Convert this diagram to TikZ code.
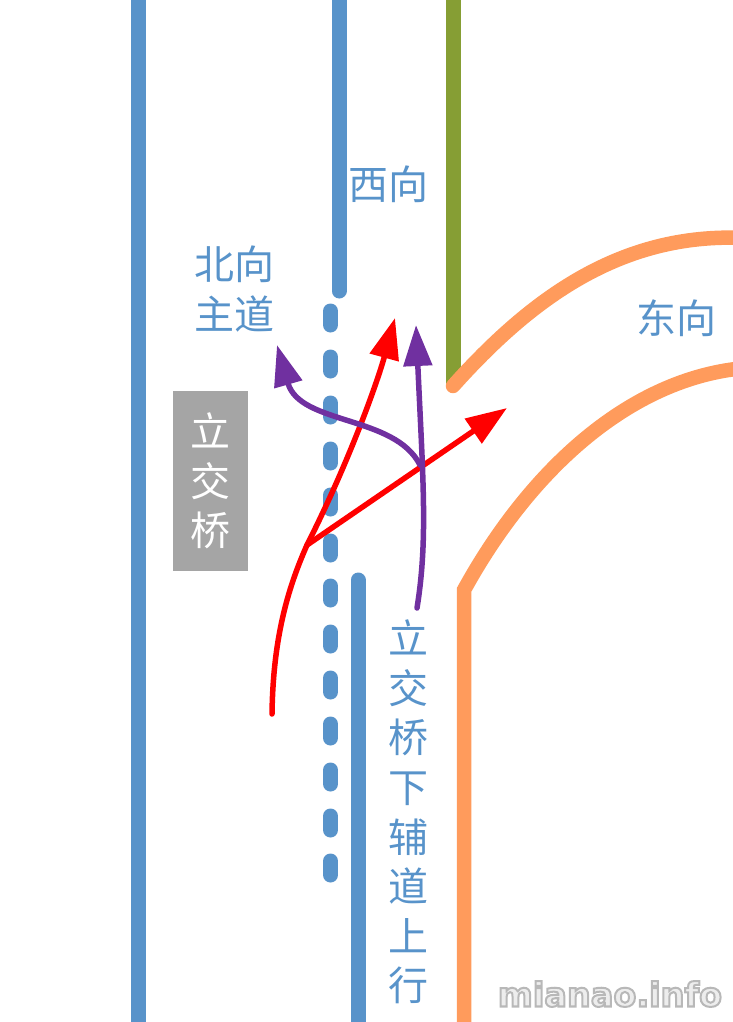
\documentclass[tikz,border=0pt]{standalone}
\usepackage{fontspec}
\setmainfont{Liberation Serif}
\newfontfamily\cjk{Noto Sans CJK SC}
\newfontfamily\markfont{DejaVu Sans Bold}
\usetikzlibrary{arrows.meta}
\definecolor{roadblue}{RGB}{88, 147, 202}
\definecolor{olivegreen}{RGB}{134, 158, 52}
\definecolor{roadorange}{RGB}{255, 155, 92}
\definecolor{boxgray}{RGB}{165, 165, 165}
\definecolor{routepurple}{RGB}{112, 48, 160}
\tikzstyle{road} = [line width=15pt, line cap=round, roadblue]
\tikzstyle{edgeline} = [line width=14.5pt, line cap=round, roadorange]
\tikzstyle{redroute} = [line width=5.5pt, red, line cap=round, -{Triangle[length=41pt,width=29pt]}]
\tikzstyle{purpleroute} = [line width=5.5pt, routepurple, line cap=round, -{Triangle[length=41pt,width=28pt]}]
\tikzstyle{label} = [text=roadblue, font=\cjk\fontsize{40}{49.6}\selectfont, align=center, inner sep=0pt]

\begin{document}
\begin{tikzpicture}[x=1pt,y=-1pt]
        \useasboundingbox (0,0) rectangle (733,1022);

        % Roads
        \draw [road, line cap=butt] (138,0) -- (138,1022);
        \draw [road] (339,-10) -- (339,291);
        \draw [road] (358,580) -- (358,1032);
        \foreach \y in {311,357,403,449,495,541,586,632,678,724,770,816,861} {
            \draw [road] (330.5,\y) -- (330.5,\y+14);
        }

        % Olive and orange edges
        \draw [line width=15pt, olivegreen] (453.5,0) -- (453.5,384);
        \draw [edgeline] (453,386) .. controls (530,300) and (620,232) .. (745,238);
        \draw [edgeline, line cap=butt] (464,1022) -- (464,590) .. controls (530,470) and (630,378) .. (745,368);

        % Bridge block
        \node (bridge) at (210.5,481) [fill=boxgray, minimum width=75pt, minimum height=180pt, inner sep=0pt,
        text=white, font=\cjk\fontsize{40}{49.6}\selectfont, align=center] {立\\交\\桥};

        % Routes
        \coordinate (fork) at (307,545);
        \coordinate (cross) at (420,465);
        \draw [redroute] (272,714) .. controls (273,640) and (287,590) .. (fork) .. controls (350,460) and (378,380) .. (395,318);
        \draw [redroute] (fork) -- (507,408);
        \draw [purpleroute] (417,608) .. controls (428,540) and (423,480) .. (416,325);
        \draw [purpleroute] (cross) .. controls (395,415) and (300,425) .. (277,345);

        % Labels
        \node (west) at (388,184) [label] {西向};
        \node (north) at (234.5,289) [label] {北向\\主道};
        \node (east) at (676,318) [label] {东向};
        \node (side) at (408,812) [label] {立\\交\\桥\\下\\辅\\道\\上\\行};

        % Watermark
        \node (mark) at (610,994) [font=\markfont\fontsize{33.5}{35}\selectfont, inner sep=0pt]
        {\special{pdf:code q 2 Tr 2 w 0.72 G 0.93 g}mianao.info\special{pdf:code 0 Tr Q}};
    \end{tikzpicture}
\end{document}
